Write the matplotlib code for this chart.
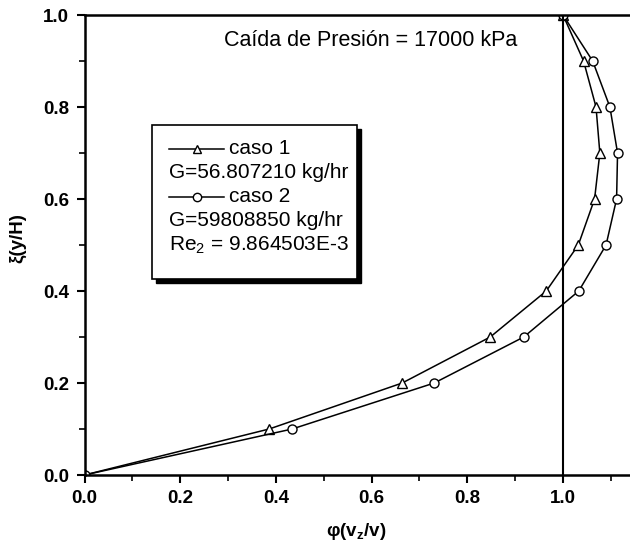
import matplotlib
matplotlib.use("Agg")
import matplotlib.pyplot as plt
from matplotlib.patches import Rectangle
from matplotlib.lines import Line2D

plt.rcParams['font.family'] = ['Liberation Sans', 'DejaVu Sans']
plt.rcParams['mathtext.fontset'] = 'custom'
plt.rcParams['mathtext.rm'] = 'Liberation Sans'
plt.rcParams['mathtext.bf'] = 'Liberation Sans:bold'

# perfil de velocidad adimensional
xi = [0.0, 0.1, 0.2, 0.3, 0.4, 0.5, 0.6, 0.7, 0.8, 0.9, 1.0]
phi_caso1 = [0.0, 0.386, 0.664, 0.848, 0.965, 1.032, 1.066, 1.077, 1.069, 1.043, 1.0]
phi_caso2 = [0.0, 0.434, 0.731, 0.918, 1.033, 1.090, 1.112, 1.114, 1.098, 1.062, 1.0]

leyenda = ["caso 1", "G=56.807210 kg/hr", "caso 2", "G=59808850 kg/hr",
           "Re$_2$ = 9.864503E-3"]
titulo = "Caída de Presión = 17000 kPa"

XMAX = 1.16
fig = plt.figure(figsize=(6.3, 5.54), dpi=100)
ax = fig.add_axes([84.5 / 630, 79 / 554, XMAX * 478.5 / 630, 460 / 554])

ax.plot(phi_caso1, xi, color='black', lw=1.1, marker='^', ms=7,
        mfc='white', mec='black', mew=1.0)
ax.plot(phi_caso2, xi, color='black', lw=1.1, marker='o', ms=6.5,
        mfc='white', mec='black', mew=1.0)
ax.axvline(1.0, color='black', lw=1.5)

ax.set_xlim(0, XMAX)
ax.set_ylim(0, 1.0)
ax.set_xticks([0.0, 0.2, 0.4, 0.6, 0.8, 1.0])
ax.set_xticks([0.1, 0.3, 0.5, 0.7, 0.9, 1.1], minor=True)
ax.set_yticks([0.0, 0.2, 0.4, 0.6, 0.8, 1.0])
ax.set_yticks([0.1, 0.3, 0.5, 0.7, 0.9], minor=True)
ax.xaxis.set_major_formatter(matplotlib.ticker.FormatStrFormatter('%.1f'))
ax.yaxis.set_major_formatter(matplotlib.ticker.FormatStrFormatter('%.1f'))
ax.tick_params(which='major', direction='out', length=6, width=1.5,
               labelsize=13.5, pad=5)
ax.tick_params(which='minor', direction='out', length=4, width=1.2)
for lab in ax.get_xticklabels() + ax.get_yticklabels():
    lab.set_fontweight('bold')
for s in ax.spines.values():
    s.set_linewidth(1.8)

ax.set_xlabel(r"φ(v$_\mathbf{z}$/v)", fontsize=13.5, fontweight='bold')
ax.set_ylabel("ξ(y/H)", fontsize=13.5, fontweight='bold')
ax.xaxis.set_label_coords(271.5 / (XMAX * 478.5), -0.1)
ax.yaxis.set_label_coords(-58 / (XMAX * 478.5), 0.515)

# conversión de píxeles a fracción de ejes
def fx(px):
    return (px - 84.5) / (XMAX * 478.5)

def fy(py):
    return (475 - py) / 460

ax.text(fx(371), fy(40), titulo, transform=ax.transAxes, ha='center',
        va='center', fontsize=15.5)

# cuadro de leyenda con sombra
x0, x1, y0, y1 = fx(152), fx(357), fy(279), fy(125)
ax.add_patch(Rectangle((fx(156), fy(283)), x1 - x0, y1 - y0,
                       transform=ax.transAxes, facecolor='black',
                       edgecolor='black', zorder=5))
ax.add_patch(Rectangle((x0, y0), x1 - x0, y1 - y0, transform=ax.transAxes,
                       facecolor='white', edgecolor='black', lw=1.2, zorder=6))

filas = [fy(149), fy(173), fy(197), fy(221), fy(245)]
marcas = ['^', None, 'o', None, None]
for y, txt, m in zip(filas, leyenda, marcas):
    if m is not None:
        ax.add_line(Line2D([fx(169), fx(224)], [y, y], transform=ax.transAxes,
                           color='black', lw=1.1, zorder=7))
        ax.add_line(Line2D([fx(196.5)], [y], transform=ax.transAxes, marker=m,
                           ms=6, mfc='white', mec='black', mew=1.0, zorder=8))
        ax.text(fx(229), y, txt, transform=ax.transAxes, va='center',
                fontsize=15, zorder=8)
    else:
        ax.text(fx(169), y, txt, transform=ax.transAxes, va='center',
                fontsize=15, zorder=8)

fig.savefig("out.png", dpi=100)
